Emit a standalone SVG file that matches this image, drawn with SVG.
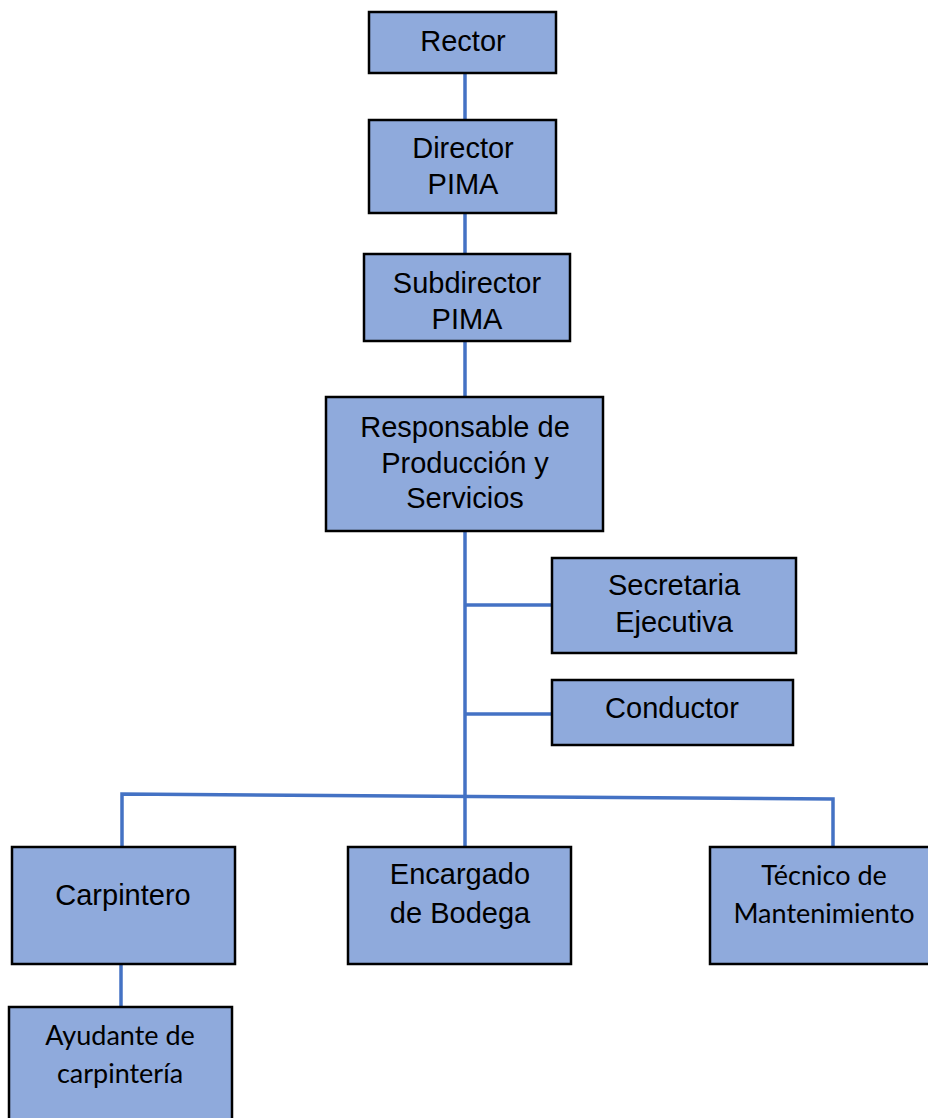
<svg xmlns="http://www.w3.org/2000/svg" width="928" height="1118" viewBox="0 0 928 1118">
<style>
.box{fill:#8faadc;stroke:#000;stroke-width:2.5}
.t{font-family:"Liberation Sans",Arial,sans-serif;font-size:29px;fill:#000;text-anchor:middle}
.c{font-family:Lato,"Open Sans",sans-serif;font-size:27px;fill:#000;text-anchor:middle}
.ln{stroke:#4472c4;stroke-width:3.5;fill:none}
</style>
<rect width="928" height="1118" fill="#fff"/>
<g id="connectors">
<line class="ln" x1="465" y1="73" x2="465" y2="120"/>
<line class="ln" x1="465" y1="213" x2="465" y2="254"/>
<line class="ln" x1="465" y1="341" x2="465" y2="397"/>
<line class="ln" x1="465" y1="531" x2="465" y2="847"/>
<line class="ln" x1="465" y1="605" x2="552" y2="605"/>
<line class="ln" x1="465" y1="714" x2="552" y2="714"/>
<polyline class="ln" points="122,847 122,794 833,799 833,847"/>
<line class="ln" x1="121" y1="964" x2="121" y2="1007"/>
</g>
<g id="rector"><rect class="box" x="369" y="12" width="187" height="61"/><text class="t" x="463" y="51">Rector</text></g>
<g id="director"><rect class="box" x="369" y="120" width="187" height="93"/><text class="t" x="463" y="158">Director</text><text class="t" x="463" y="194">PIMA</text></g>
<g id="subdirector"><rect class="box" x="364" y="254" width="206" height="87"/><text class="t" x="467" y="293">Subdirector</text><text class="t" x="467" y="329">PIMA</text></g>
<g id="responsable"><rect class="box" x="326" y="397" width="277" height="134"/><text class="t" x="465" y="437">Responsable de</text><text class="t" x="465" y="473">Producción y</text><text class="t" x="465" y="508">Servicios</text></g>
<g id="secretaria"><rect class="box" x="552" y="558" width="244" height="95"/><text class="t" x="674" y="595">Secretaria</text><text class="t" x="674" y="632">Ejecutiva</text></g>
<g id="conductor"><rect class="box" x="552" y="680" width="241" height="65"/><text class="t" x="672" y="718">Conductor</text></g>
<g id="carpintero"><rect class="box" x="12" y="847" width="223" height="117"/><text class="t" x="123" y="905">Carpintero</text></g>
<g id="encargado"><rect class="box" x="348" y="847" width="223" height="117"/><text class="t" x="460" y="884">Encargado</text><text class="t" x="460" y="923">de Bodega</text></g>
<g id="tecnico"><rect class="box" x="710" y="847" width="230" height="117"/><text class="c" x="824" y="885">Técnico de</text><text class="c" x="824" y="923">Mantenimiento</text></g>
<g id="ayudante"><rect class="box" x="9" y="1007" width="223" height="125"/><text class="c" x="120" y="1045">Ayudante de</text><text class="c" x="120" y="1083">carpintería</text></g>
</svg>
